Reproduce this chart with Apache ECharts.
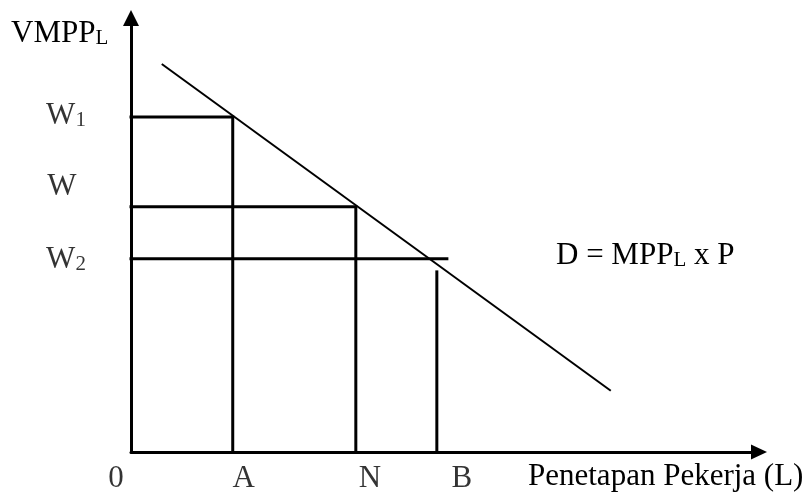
<!DOCTYPE html>
<html>
<head>
<meta charset="utf-8">
<script src="https://cdn.jsdelivr.net/npm/echarts@6/dist/echarts.min.js"></script>
<style>html,body{margin:0;padding:0;background:#fff}#c{width:812px;height:496px}</style>
</head>
<body>
<div id="c"></div>
<script>
// Quantity of labour points on the horizontal axis
const xCats = ['0', 'A', 'N', 'B'];
const xCatValues = [0, 16.2, 35.8, 48.7];
// Wage levels on the vertical axis
const wLabels = ['W1', 'W', 'W2'];
const wValues = [77.2, 56.5, 44.5];
// Demand curve end points (D = MPPL x P)
const demandX = [4.9, 76.4];
const demandY = [89.4, 14.1];
// W2 level extends to this quantity; B line rises to this value
const w2End = 50.3;
const bTop = 41.5;

const FONT = 'Liberation Serif';
const rich = {
  m: { fontFamily: FONT, fontSize: 31, color: '#000', lineHeight: 33, verticalAlign: 'bottom' },
  s: { fontFamily: FONT, fontSize: 21, color: '#000', lineHeight: 26, verticalAlign: 'bottom' }
};
function sub(t) {
  const m = t.match(/^([A-Z]+)(\d)$/);
  return m ? '{m|' + m[1] + '}{s|' + m[2] + '}' : '{m|' + t + '}';
}

const thick = { color: '#000', width: 3, cap: 'square', join: 'miter' };
function seg(data) {
  return { type: 'line', data: data, symbol: 'none', clip: false, lineStyle: thick, z: 3 };
}

const xLabelOffsets = [[-15, 26], [11, 26], [14, 26], [25, 26]];
const wLabelOffsets = [[-65, -2], [-69, -21], [-65, 0]];

const chart = echarts.init(document.getElementById('c'), null, { renderer: 'canvas' });
chart.setOption({
  animation: false,
  backgroundColor: '#fff',
  grid: { left: 131, right: 53, top: 18, bottom: 44 },
  xAxis: {
    type: 'value', min: 0, max: 100,
    axisLine: { show: true, symbol: ['none', 'triangle'], symbolSize: [15, 16], lineStyle: { color: '#000', width: 3 } },
    axisTick: { show: false }, axisLabel: { show: false }, splitLine: { show: false }
  },
  yAxis: {
    type: 'value', min: 0, max: 100,
    axisLine: { show: true, symbol: ['none', 'triangle'], symbolSize: [16, 16], lineStyle: { color: '#000', width: 3 } },
    axisTick: { show: false }, axisLabel: { show: false }, splitLine: { show: false }
  },
  series: [
    { type: 'line', data: [[demandX[0], demandY[0]], [demandX[1], demandY[1]]], symbol: 'none', clip: false,
      lineStyle: { color: '#000', width: 2 }, z: 4 },
    seg([[0, wValues[0]], [xCatValues[1], wValues[0]], [xCatValues[1], 0]]),
    seg([[0, wValues[1]], [xCatValues[2], wValues[1]], [xCatValues[2], 0]]),
    seg([[0, wValues[2]], [w2End, wValues[2]]]),
    seg([[xCatValues[3], bTop], [xCatValues[3], 0]]),
    {
      type: 'scatter', symbolSize: 0, clip: false, silent: true,
      data: xCats.map((c, i) => ({ value: [xCatValues[i], 0], name: c,
        label: { show: true, position: 'inside', offset: xLabelOffsets[i], formatter: sub(c), rich: rich } }))
    },
    {
      type: 'scatter', symbolSize: 0, clip: false, silent: true,
      data: wLabels.map((c, i) => ({ value: [0, wValues[i]], name: c,
        label: { show: true, position: 'inside', offset: wLabelOffsets[i], formatter: sub(c), rich: rich } }))
    }
  ],
  graphic: [
    { type: 'text', left: 11, top: 18, style: { text: '{m|VMPP}{s|L}', rich: rich } },
    { type: 'text', left: 556, top: 240, style: { text: '{m|D = MPP}{s|L}{m| x P}', rich: rich } },
    { type: 'text', left: 528, top: 461, style: { text: '{m|Penetapan Pekerja (L)}', rich: rich } }
  ]
});
</script>
</body>
</html>
